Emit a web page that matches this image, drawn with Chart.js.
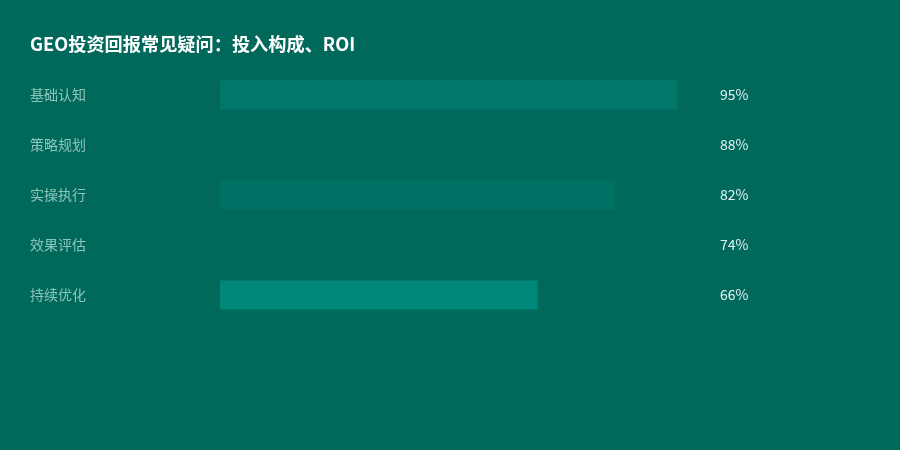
<!DOCTYPE html>
<html>
<head>
<meta charset="utf-8">
<script src="https://cdn.jsdelivr.net/npm/chart.js@4"></script>
<style>
  html, body { margin: 0; padding: 0; background: #00695C; }
  #wrap { width: 900px; height: 450px; }
</style>
</head>
<body>
<div id="wrap"><canvas id="myChart"></canvas></div>
<script>
// datos del grafico
const categories = ["基础认知", "策略规划", "实操执行", "效果评估", "持续优化"];
const values = [95, 88, 82, 74, 66];
const barColors = ["#02786A", "#00695C", "#007265", "#00695C", "#00897B"];

const fontFamily = '"Noto Sans CJK SC", "Noto Sans", sans-serif';

// etiquetas de porcentaje a la derecha
const valueLabels = {
  id: 'valueLabels',
  afterDatasetsDraw(chart) {
    const c = chart.ctx;
    const meta = chart.getDatasetMeta(0);
    c.save();
    c.fillStyle = '#E0F2F1';
    c.font = '14px ' + fontFamily;
    c.textBaseline = 'middle';
    c.textAlign = 'left';
    meta.data.forEach((bar, i) => {
      c.fillText(values[i] + '%', chart.chartArea.right + 19, bar.y);
    });
    c.restore();
  }
};

let ctx = document.getElementById('myChart');

let chart = new Chart(ctx, {
  type: 'bar',
  data: {
    labels: categories,
    datasets: [{
      data: values,
      backgroundColor: barColors,
      borderWidth: 0,
      categoryPercentage: 1,
      barPercentage: 0.58
    }]
  },
  options: {
    indexAxis: 'y',
    responsive: true,
    maintainAspectRatio: false,
    animation: false,
    layout: { padding: { left: 30, right: 199, top: 0, bottom: 130 } },
    plugins: {
      legend: { display: false },
      tooltip: { enabled: false },
      title: {
        display: true,
        text: 'GEO投资回报常见疑问：投入构成、ROI',
        align: 'start',
        color: '#FFFFFF',
        font: { family: fontFamily, size: 18.2, weight: 'bold', lineHeight: 1.2 },
        padding: { top: 33, bottom: 15 }
      }
    },
    scales: {
      x: {
        display: false,
        min: 0,
        max: 100
      },
      y: {
        grid: { display: false },
        border: { display: false },
        afterFit(scale) { scale.width = 190; },
        ticks: {
          crossAlign: 'far',
          color: '#8CC5BA',
          padding: 0,
          font: { family: fontFamily, size: 14 }
        }
      }
    }
  },
  plugins: [valueLabels]
});
</script>
</body>
</html>
